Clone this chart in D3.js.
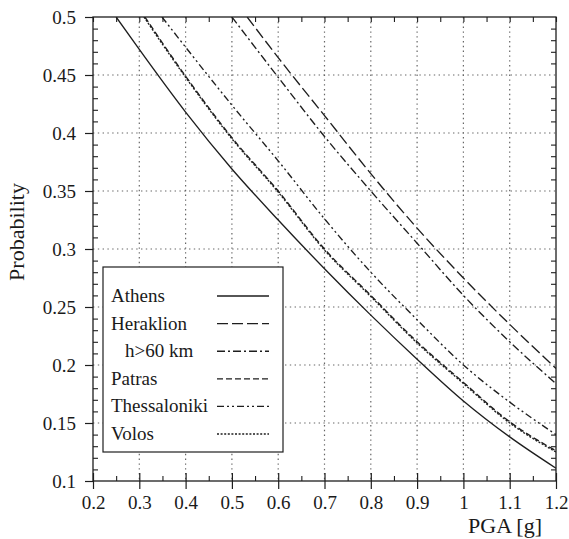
<!DOCTYPE html>
<html>
<head>
<meta charset="utf-8">
<script src="https://cdn.jsdelivr.net/npm/d3@7/dist/d3.min.js"></script>
<style>
  html, body { margin: 0; padding: 0; background: #fff; }
  svg { display: block; }
  text { font-family: "Liberation Serif", "Times New Roman", serif; fill: #1a1a1a; }
</style>
</head>
<body>
<svg id="chart" width="569" height="539"></svg>
<script>
// Fragility-style probability curves vs. peak ground acceleration
const seriesNames = ["Athens", "Heraklion", "h>60 km", "Patras", "Thessaloniki", "Volos"];
const legendLabels = ["Athens", "Heraklion", "h>60 km", "Patras", "Thessaloniki", "Volos"];

const athensPGA  = [0.25, 0.3, 0.4, 0.5, 0.6, 0.7, 0.8, 0.9, 1.0, 1.1, 1.2];
const athensP    = [0.5, 0.472, 0.418, 0.369, 0.325, 0.283, 0.243, 0.205, 0.169, 0.138, 0.111];

const heraklionPGA = [0.533, 0.6, 0.7, 0.8, 0.9, 1.0, 1.1, 1.2];
const heraklionP   = [0.5, 0.465, 0.415, 0.365, 0.318, 0.275, 0.235, 0.197];

const deepPGA = [0.5, 0.6, 0.7, 0.8, 0.9, 1.0, 1.1, 1.2];
const deepP   = [0.5, 0.448, 0.397, 0.35, 0.305, 0.26, 0.22, 0.184];

const patrasPGA = [0.312, 0.4, 0.5, 0.6, 0.7, 0.8, 0.9, 1.0, 1.1, 1.2];
const patrasP   = [0.5, 0.449, 0.396, 0.35, 0.3, 0.26, 0.22, 0.185, 0.151, 0.126];

const thessPGA = [0.349, 0.4, 0.5, 0.6, 0.7, 0.8, 0.9, 1.0, 1.1, 1.2];
const thessP   = [0.5, 0.474, 0.424, 0.376, 0.326, 0.28, 0.239, 0.2, 0.168, 0.14];

const volosPGA = [0.31, 0.4, 0.5, 0.6, 0.7, 0.8, 0.9, 1.0, 1.1, 1.2];
const volosP   = [0.5, 0.448, 0.395, 0.349, 0.299, 0.259, 0.219, 0.184, 0.15, 0.125];

const xTicks = [0.2, 0.3, 0.4, 0.5, 0.6, 0.7, 0.8, 0.9, 1.0, 1.1, 1.2];
const yTicks = [0.1, 0.15, 0.2, 0.25, 0.3, 0.35, 0.4, 0.45, 0.5];

const dashes = ["none", "11,4", "8,3,2,3", "6,3", "7,3,2,3,2,3", "2,1.6"];

const curves = [
  { pga: athensPGA, p: athensP },
  { pga: heraklionPGA, p: heraklionP },
  { pga: deepPGA, p: deepP },
  { pga: patrasPGA, p: patrasP },
  { pga: thessPGA, p: thessP },
  { pga: volosPGA, p: volosP }
];

const svg = d3.select("#chart");
const L = 93, R = 556, T = 17, B = 481;

const x = d3.scaleLinear().domain([0.2, 1.2]).range([L, R]);
const y = d3.scaleLinear().domain([0.1, 0.5]).range([B, T]);

const ink = "#1e1e1e";

// dotted grid
const grid = svg.append("g");
grid.selectAll("line.gx").data(xTicks.slice(1, -1)).join("line")
  .attr("x1", d => x(d)).attr("x2", d => x(d)).attr("y1", T).attr("y2", B)
  .attr("stroke", "#666").attr("stroke-width", 1.2).attr("stroke-dasharray", "1.4,3.4");
grid.selectAll("line.gy").data(yTicks.slice(1, -1)).join("line")
  .attr("x1", L).attr("x2", R).attr("y1", d => y(d)).attr("y2", d => y(d))
  .attr("stroke", "#666").attr("stroke-width", 1.2).attr("stroke-dasharray", "1.4,3.4");

// minor tick values
const xMinor = d3.range(0.25, 1.2, 0.1);
const yMinor = d3.range(0.11, 0.5, 0.01).filter(v => Math.abs(v * 20 - Math.round(v * 20)) > 1e-6);

// bottom axis: major ticks cross the line, minor ticks point inward
const bottom = svg.append("g").attr("transform", `translate(0,${B})`)
  .call(d3.axisBottom(x).tickValues(xTicks).tickFormat(d3.format("~g")).tickSize(8).tickPadding(7));
bottom.selectAll(".tick line").attr("y1", -8);
bottom.select(".domain").remove();
bottom.selectAll(".tick line").attr("stroke", ink).attr("stroke-width", 1.2);
bottom.selectAll("text").attr("font-size", 19).attr("font-family", null);

const bottomMinor = svg.append("g").attr("transform", `translate(0,${B})`)
  .call(d3.axisBottom(x).tickValues(xMinor).tickFormat("").tickSize(-5));
bottomMinor.select(".domain").remove();
bottomMinor.selectAll(".tick line").attr("stroke", ink).attr("stroke-width", 1.1);

// left axis: major ticks outward, minor ticks inward
const left = svg.append("g").attr("transform", `translate(${L},0)`)
  .call(d3.axisLeft(y).tickValues(yTicks).tickFormat(d3.format("~g")).tickSize(8).tickPadding(9));
left.select(".domain").remove();
left.selectAll(".tick line").attr("stroke", ink).attr("stroke-width", 1.2);
left.selectAll("text").attr("font-size", 19).attr("font-family", null);

const leftMinor = svg.append("g").attr("transform", `translate(${L},0)`)
  .call(d3.axisLeft(y).tickValues(yMinor).tickFormat("").tickSize(-5));
leftMinor.select(".domain").remove();
leftMinor.selectAll(".tick line").attr("stroke", ink).attr("stroke-width", 1.1);

// top and right frame ticks, pointing inward
const topAx = svg.append("g").attr("transform", `translate(0,${T})`)
  .call(d3.axisTop(x).tickValues(xTicks.concat(xMinor)).tickFormat("").tickSize(-5));
topAx.select(".domain").remove();
topAx.selectAll(".tick line").attr("stroke", ink).attr("stroke-width", 1.1);

const rightAx = svg.append("g").attr("transform", `translate(${R},0)`)
  .call(d3.axisRight(y).tickValues(yMinor).tickFormat("").tickSize(-5));
rightAx.select(".domain").remove();
rightAx.selectAll(".tick line").attr("stroke", ink).attr("stroke-width", 1.1);

// frame
svg.append("rect").attr("x", L).attr("y", T).attr("width", R - L).attr("height", B - T)
  .attr("fill", "none").attr("stroke", ink).attr("stroke-width", 1.3);

// curves
const line = d3.line().x(d => x(d[0])).y(d => y(d[1])).curve(d3.curveMonotoneX);
svg.append("clipPath").attr("id", "plotclip")
  .append("rect").attr("x", L).attr("y", T).attr("width", R - L).attr("height", B - T);

svg.append("g").attr("clip-path", "url(#plotclip)")
  .selectAll("path").data(curves).join("path")
  .attr("d", c => line(c.pga.map((v, i) => [v, c.p[i]])))
  .attr("fill", "none").attr("stroke", ink).attr("stroke-width", 1.35)
  .attr("stroke-dasharray", (c, i) => dashes[i]);

// legend
const lg = svg.append("g");
lg.append("rect").attr("x", 103).attr("y", 267).attr("width", 180).attr("height", 185)
  .attr("fill", "#fff").attr("stroke", ink).attr("stroke-width", 1.2);
const rowY = i => 296 + i * 27.6;
lg.selectAll("text").data(legendLabels).join("text")
  .attr("x", (d, i) => i === 2 ? 125 : 111).attr("y", (d, i) => rowY(i) + 6)
  .attr("font-size", 19).text(d => d);
lg.selectAll("line").data(seriesNames).join("line")
  .attr("x1", 217).attr("x2", 269).attr("y1", (d, i) => rowY(i)).attr("y2", (d, i) => rowY(i))
  .attr("stroke", ink).attr("stroke-width", 1.35).attr("stroke-dasharray", (d, i) => dashes[i]);

// axis titles
svg.append("text").attr("x", 542).attr("y", 533).attr("text-anchor", "end")
  .attr("font-size", 22).text("PGA [g]");
svg.append("text").attr("transform", "translate(24,232) rotate(-90)")
  .attr("text-anchor", "middle").attr("font-size", 22).text("Probability");
</script>
</body>
</html>
